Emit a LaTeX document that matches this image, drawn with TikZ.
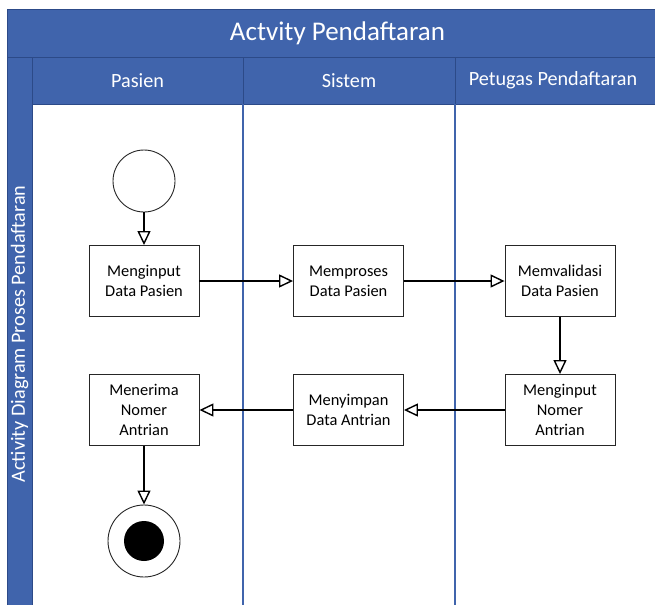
\documentclass[tikz,border=0pt]{standalone}
\usepackage{fontspec}
\setmainfont{Carlito}
\usetikzlibrary{arrows.meta, positioning}

\definecolor{poolblue}{RGB}{64,100,172}
\definecolor{pooledge}{RGB}{44,74,136}

\begin{document}
\begin{tikzpicture}[x=1pt, y=-1pt,
  band/.style={fill=poolblue},
  edgeline/.style={draw=pooledge, line width=0.9pt},
  laneline/.style={draw=poolblue, line width=1.4pt},
  lanehead/.style={text=white, font=\fontsize{20.2}{23}\selectfont},
  action/.style={rectangle, draw=black!85, fill=white, line width=0.9pt,
                 minimum width=110pt, minimum height=71pt, align=center,
                 inner sep=2pt, font=\fontsize{16.4}{20}\selectfont},
  initial/.style={circle, draw=black!85, fill=white, line width=0.9pt,
                  minimum size=62pt, inner sep=0pt},
  flow/.style={-{Triangle[open, length=14pt, width=13pt]}, line width=1.4pt}
]
  \useasboundingbox (0,0) rectangle (655,605);

  % Pool frame: title band, lane headers, side band
  \fill[band] (7,9) rectangle (655,104);
  \fill[band] (7,104) rectangle (32,605);
  \fill[white] (32,104) rectangle (655,605);
  \draw[edgeline] (7,9) -- (655,9);
  \draw[edgeline] (7,57) -- (655,57);
  \draw[edgeline] (32,104) -- (655,104);
  \draw[edgeline] (7,9) -- (7,605);
  \draw[edgeline] (32,57) -- (32,605);
  \draw[edgeline] (243,57) -- (243,104);
  \draw[edgeline] (455,57) -- (455,104);

  % Lane separators
  \draw[laneline] (243,104) -- (243,605);
  \draw[laneline] (455,104) -- (455,605);

  % Texts of the pool
  \node[text=white, font=\fontsize{27}{30}\selectfont] (title) at (337.5,33) {Actvity Pendaftaran};
  \node[lanehead] (hPasien) at (137.5,80.5) {Pasien};
  \node[lanehead] (hSistem) at (349,80.5) {Sistem};
  \node[lanehead] (hPetugas) at (553,80.5) {Petugas Pendaftaran};
  \node[lanehead, rotate=90] (side) at (19.5,334) {Activity Diagram Proses Pendaftaran};

  % Start and end
  \node[initial] (start) at (144,181) {};
  \node[initial, minimum size=72pt] (finish) at (144,541) {};
  \node[circle, fill=black, minimum size=40pt, inner sep=0pt] (finishDot) at (finish) {};

  % Actions
  \node[action] (inputData) at (144,281) {Menginput\\Data Pasien};
  \node[action] (prosesData) at (348.5,281) {Memproses\\Data Pasien};
  \node[action] (validasi) at (560,281) {Memvalidasi\\Data Pasien};
  \node[action] (inputNomer) at (560,410) {Menginput\\Nomer\\Antrian};
  \node[action] (simpan) at (348.5,410) {Menyimpan\\Data Antrian};
  \node[action] (terima) at (144,410) {Menerima\\Nomer\\Antrian};

  % Control flow
  \draw[flow] (start) -- (inputData);
  \draw[flow] (inputData) -- (prosesData);
  \draw[flow] (prosesData) -- (validasi);
  \draw[flow] (validasi) -- (inputNomer);
  \draw[flow] (inputNomer) -- (simpan);
  \draw[flow] (simpan) -- (terima);
  \draw[flow] (terima) -- (finish);
\end{tikzpicture}
\end{document}
